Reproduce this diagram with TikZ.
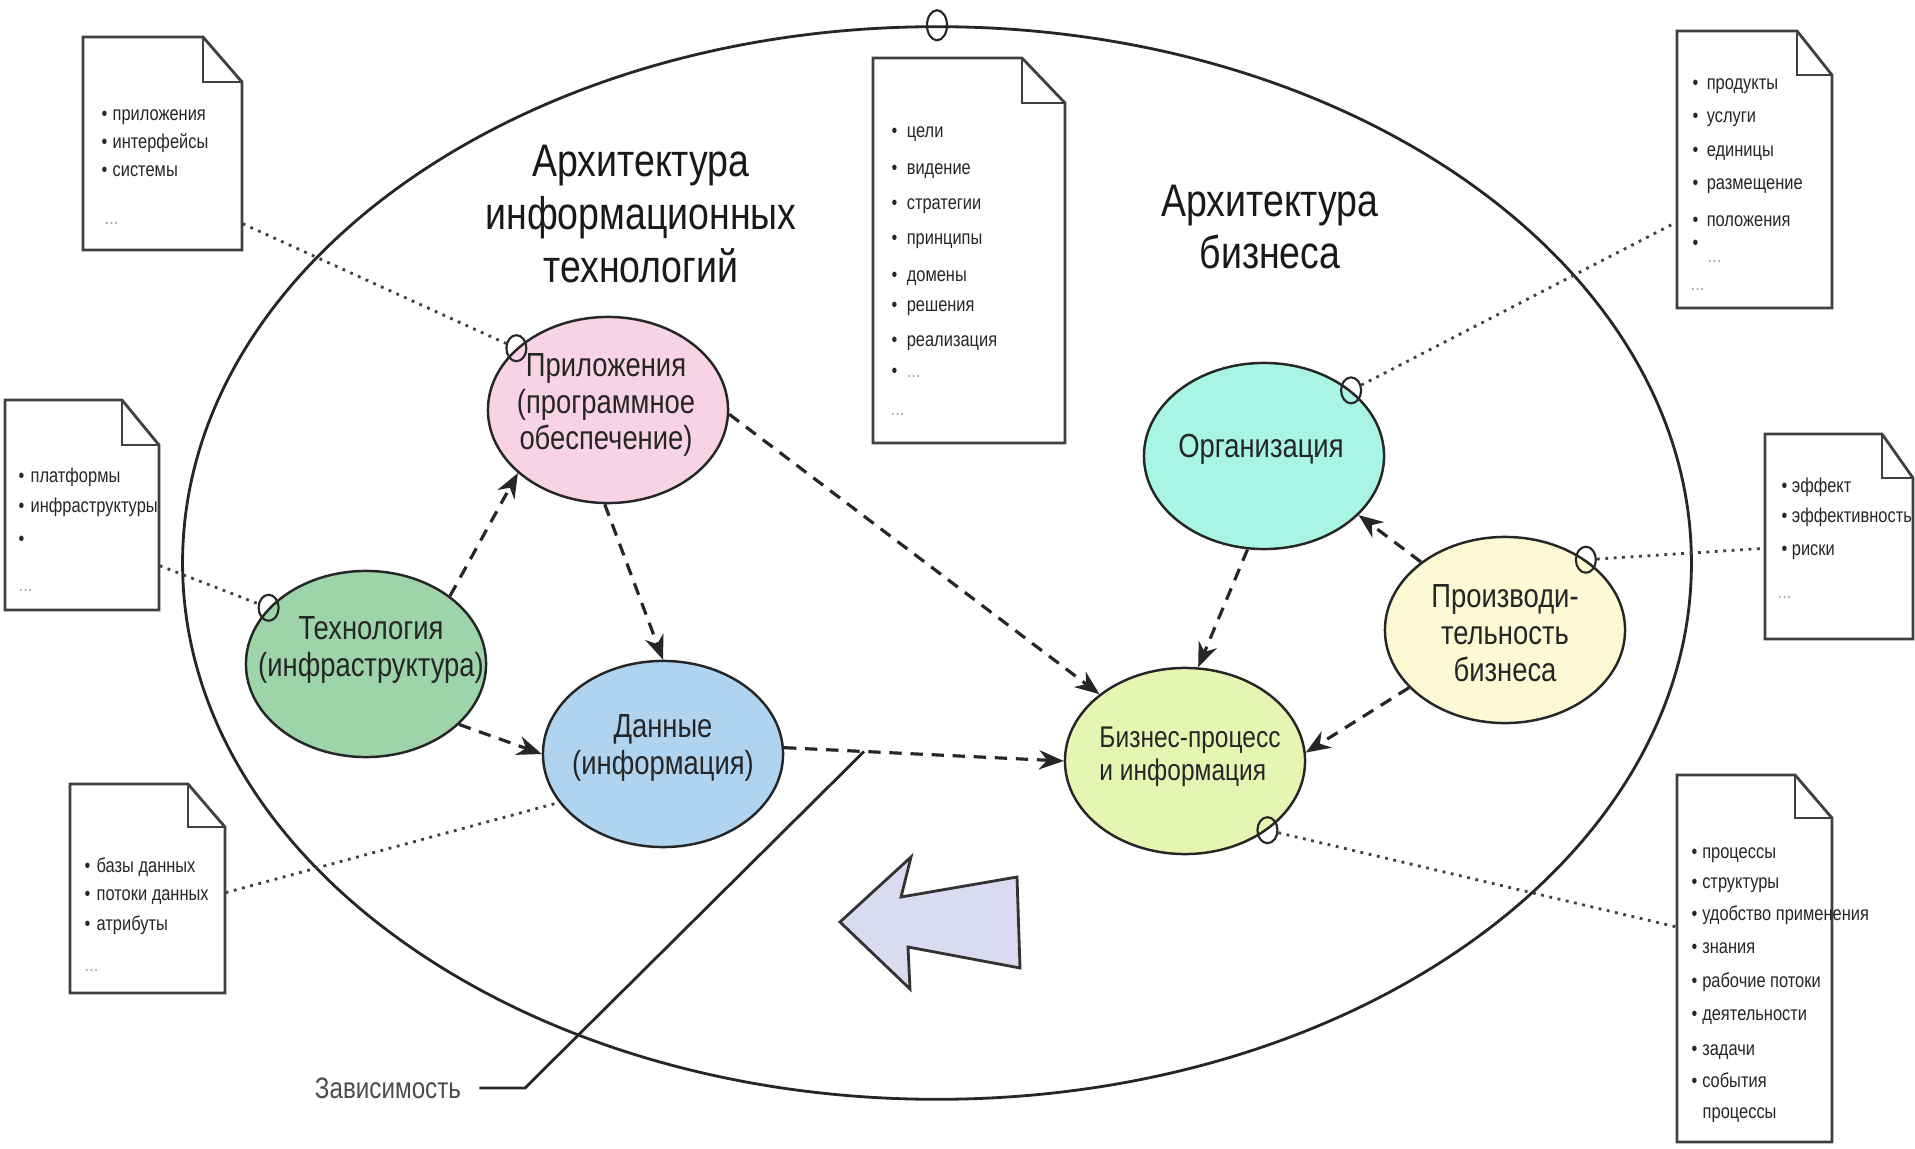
\documentclass[tikz,border=0pt]{standalone}
\usepackage{fontspec}
\setmainfont{Liberation Sans}[FakeStretch=0.82]
\usetikzlibrary{shapes.geometric,arrows.meta,calc,fit}
\definecolor{pinkc}{HTML}{F8D3E3}
\definecolor{greenc}{HTML}{9ED4AA}
\definecolor{bluec}{HTML}{B0D4F0}
\definecolor{cyanc}{HTML}{A8F5E4}
\definecolor{yelc}{HTML}{FCF9D4}
\definecolor{ygc}{HTML}{E6F6B2}
\definecolor{lavc}{HTML}{DADAF0}
\tikzset{
 ell/.style={ellipse, draw=black!85, line width=0.7pt, minimum width=2.4cm, minimum height=1.86cm, inner sep=0pt},
 etext/.style={align=center, font=\fontsize{9.5}{10.5}\selectfont, text=black!85, inner sep=0pt},
 ttl/.style={align=center, font=\fontsize{13}{15}\selectfont, text=black!90, inner sep=0pt},
 port/.style={ellipse, draw=black!85, line width=0.6pt, minimum width=0.2cm, minimum height=0.26cm, inner sep=0pt},
 depl/.style={draw=black!85, line width=0.9pt, dash pattern=on 3.5pt off 2.5pt, -{Stealth[length=7pt,width=5.5pt]}},
 dotl/.style={draw=black!75, line width=0.8pt, dash pattern=on 0.8pt off 1.6pt},
 docline/.style={draw=black!75, line width=0.8pt, fill=white},
 dtext/.style={font=\fontsize{5.7}{7}\selectfont, text=black!85, anchor=base west, inner sep=0pt},
 dgrey/.style={dtext, text=black!35},
}
\newcommand\docbox[7]{%
 \draw[docline] (#2,#3) -- (#4-#6,#3) -- (#4,#3+#7) -- (#4,#5) -- (#2,#5) -- cycle;
 \draw[docline, fill=none] (#4-#6,#3) -- (#4-#6,#3+#7) -- (#4,#3+#7);
 \node[fit={(#2,#3) (#4,#5)}, inner sep=0pt] (#1) {};
}
\newcommand\bitem[4]{\node[dtext] (#1) at (#2) {\makebox[#3][l]{•}#4};}
\begin{document}
\begin{tikzpicture}[x=0.01cm, y=-0.01cm]
\useasboundingbox (0,0) rectangle (1915,1149);
\fill[white] (0,0) rectangle (1915,1149);

% big ellipse
\node[ellipse, draw=black!85, line width=0.8pt, minimum width=15.08cm, minimum height=10.72cm, inner sep=0pt] (big) at (937,563) {};

% titles
\node[ttl] (t1) at (641,214) {Архитектура\\информационных\\технологий};
\node[ttl] (t2) at (1270,227) {Архитектура\\бизнеса};

% documents
\docbox{d1}{83}{37}{242}{250}{39}{45}
\bitem{d1a}{101,121}{3.1pt}{приложения}
\bitem{d1b}{101,149}{3.1pt}{интерфейсы}
\bitem{d1c}{101,177}{3.1pt}{системы}
\node[dgrey] (d1d) at (104,225) {...};

\docbox{d2}{5}{400}{159}{610}{37}{45}
\bitem{d2a}{18,482}{3.4pt}{платформы}
\bitem{d2b}{18,513}{3.4pt}{инфраструктуры}
\bitem{d2c}{18,545}{3.4pt}{}
\node[dgrey] (d2d) at (18,591) {...};

\docbox{d3}{70}{784}{225}{993}{37}{43}
\bitem{d3a}{84,872}{3.4pt}{базы данных}
\bitem{d3b}{84,900}{3.4pt}{потоки данных}
\bitem{d3c}{84,930}{3.4pt}{атрибуты}
\node[dgrey] (d3d) at (84,971) {...};

\docbox{d4}{873}{58}{1065}{443}{43}{45}
\bitem{d4a}{891,138}{4.3pt}{цели}
\bitem{d4b}{891,175}{4.3pt}{видение}
\bitem{d4c}{891,210}{4.3pt}{стратегии}
\bitem{d4d}{891,245}{4.3pt}{принципы}
\bitem{d4e}{891,282}{4.3pt}{домены}
\bitem{d4f}{891,312}{4.3pt}{решения}
\bitem{d4g}{891,347}{4.3pt}{реализация}
\bitem{d4h}{891,378}{4.3pt}{\textcolor{black!35}{...}}
\node[dgrey] (d4i) at (890,416) {...};

\docbox{d5}{1677}{31}{1832}{308}{35}{44}
\bitem{d5a}{1692,90}{4pt}{продукты}
\bitem{d5b}{1692,123}{4pt}{услуги}
\bitem{d5c}{1692,157}{4pt}{единицы}
\bitem{d5d}{1692,190}{4pt}{размещение}
\bitem{d5e}{1692,227}{4pt}{положения}
\bitem{d5f}{1692,250}{4pt}{}
\node[dgrey] (d5g) at (1707,263) {...};
\node[dgrey] (d5h) at (1690,291) {...};

\docbox{d6}{1765}{434}{1913}{639}{31}{44}
\bitem{d6a}{1781,493}{2.9pt}{эффект}
\bitem{d6b}{1781,523}{2.9pt}{эффективность}
\bitem{d6c}{1781,555}{2.9pt}{риски}
\node[dgrey] (d6d) at (1777,598) {...};

\docbox{d7}{1677}{775}{1832}{1142}{37}{43}
\bitem{d7a}{1691,858}{3pt}{процессы}
\bitem{d7b}{1691,888}{3pt}{структуры}
\bitem{d7c}{1691,920}{3pt}{удобство применения}
\bitem{d7d}{1691,953}{3pt}{знания}
\bitem{d7e}{1691,987}{3pt}{рабочие потоки}
\bitem{d7f}{1691,1020}{3pt}{деятельности}
\bitem{d7g}{1691,1055}{3pt}{задачи}
\bitem{d7h}{1691,1087}{3pt}{события}
\node[dtext] (d7i) at (1702,1118) {процессы};

% ellipses
\node[ell, fill=pinkc] (app) at (608,410) {};
\node[ell, fill=greenc] (tech) at (366,664) {};
\node[ell, fill=bluec] (data) at (663,754) {};
\node[ell, fill=cyanc] (org) at (1264,456) {};
\node[ell, fill=yelc] (perf) at (1505,630) {};
\node[ell, fill=ygc] (bp) at (1185,761) {};

\node[etext] (app-t) at (606,405) {Приложения\\(программное\\обеспечение)};
\node[etext] (tech-t) at (371,650) {Технология\\(инфраструктура)};
\node[etext] (data-t) at (663,748) {Данные\\(информация)};
\node[etext] (org-t) at (1261,449) {Организация};
\node[etext] (perf-t) at (1505,633) {Производи-\\тельность\\бизнеса};
\node[etext, align=left, font=\fontsize{8.5}{9.5}\selectfont] (bp-t) at (1190,757) {Бизнес-процесс\\и информация};

% ports
\node[port] (appc) at (app.146) {};
\node[port] (techc) at (tech.150) {};
\node[port] (orgc) at (org.37) {};
\node[port] (perfc) at (perf.41) {};
\node[port] (bpc) at (bp.320) {};
\node[port, minimum height=0.3cm] (topc) at (big.90) {};

% dotted links
\draw[dotl] (d1.-45) -- (appc);
\draw[dotl] (d2.-38) -- (techc);
\draw[dotl] (d3.-3) -- (data.205);
\draw[dotl] (orgc) -- (d5.214);
\draw[dotl] (perfc) -- (d6.189);
\draw[dotl] (bpc) -- (d7.158);

% dependencies
\draw[depl] (tech.39) -- (app.215);
\draw[depl] (app.268) -- (data.90);
\draw[depl] (tech.327) -- (data.180);
\draw[depl] (app.358) -- (bp.142);
\draw[depl] (data.3) -- (bp.180);
\draw[depl] (org.260) -- (bp.82);
\draw[depl] (perf.141) -- (org.328);
\draw[depl] (perf.211) -- (bp.4);

% block arrow
\draw[fill=lavc, draw=black!80, line width=0.8pt] (840,922) -- (911,857) -- (901,897) -- (1017,877) -- (1020,968) -- (908,947) -- (910,989) -- cycle;

% dependency label
\node[font=\fontsize{8.4}{10}\selectfont, text=black!70, inner xsep=5pt, inner ysep=0pt] (dep) at (388,1088) {Зависимость};
\coordinate (depm) at ($(data.3)!0.286!(bp.180)$);
\coordinate (depk) at (525,1088);
\draw[line width=0.8pt, black!85] (dep.east) -- (dep.east -| depk) -- (depm);
\end{tikzpicture}
\end{document}
